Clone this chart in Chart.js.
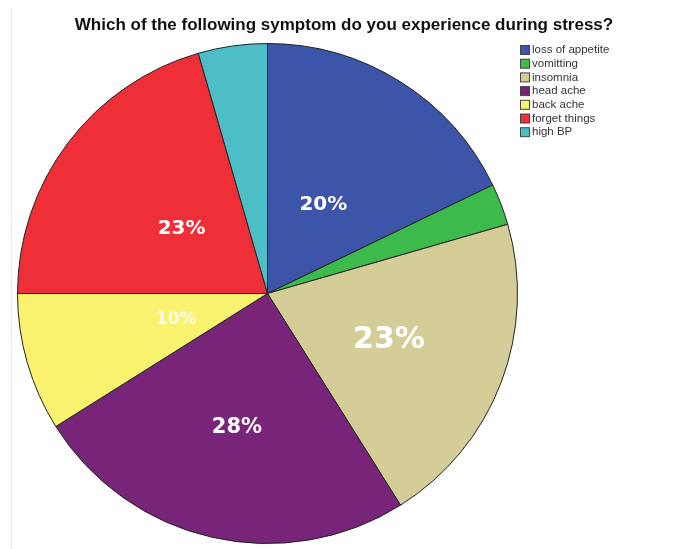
<!DOCTYPE html>
<html>
<head>
<meta charset="utf-8">
<title>Stress symptoms</title>
<script src="https://cdn.jsdelivr.net/npm/chart.js@4/dist/chart.umd.min.js"></script>
<style>
  html, body { margin: 0; padding: 0; background: #ffffff; }
  #wrap { position: relative; width: 673px; height: 549px; }
  #edge { position: absolute; left: 11px; top: 8px; width: 1px; height: 541px; background: #ececec; }
  canvas { position: absolute; left: 0; top: 0; }
</style>
</head>
<body>
<div id="wrap">
  <div id="edge"></div>
  <canvas id="chart" width="673" height="549"></canvas>
</div>
<script>
// Survey answers: share of respondents naming each symptom (percent)
const symptoms = ['loss of appetite', 'vomitting', 'insomnia', 'head ache', 'back ache', 'forget things', 'high BP'];
const shares = [20, 3, 23, 28, 10, 23, 5];
// Slices that carry a printed percentage
const labelled = [true, false, true, true, true, true, false];

const chartTitle = 'Which of the following symptom do you experience during stress?';

const sliceColors = ['#3d55a9', '#3cba4c', '#d5cd98', '#782579', '#f9f26f', '#ee2f37', '#4bbfc5'];

// Look of each printed percentage: font size and how far out from the centre it sits
const valueFont = [20, 0, 30, 21, 17, 20, 0];
const valueRadius = [0.42, 0, 0.52, 0.55, 0.38, 0.43, 0];
const valueAlpha = [1, 1, 1, 1, 0.85, 1, 1];

const overlay = {
  id: 'overlay',
  afterDraw(chart) {
    const ctx = chart.ctx;
    const meta = chart.getDatasetMeta(0);

    // percentages inside the slices
    meta.data.forEach((arc, i) => {
      if (!labelled[i]) return;
      const mid = (arc.startAngle + arc.endAngle) / 2;
      const r = arc.outerRadius * valueRadius[i];
      const x = arc.x + Math.cos(mid) * r;
      const y = arc.y + Math.sin(mid) * r;
      ctx.save();
      ctx.font = 'bold ' + valueFont[i] + 'px "DejaVu Sans", sans-serif';
      ctx.fillStyle = 'rgba(255,255,255,' + valueAlpha[i] + ')';
      ctx.textAlign = 'center';
      ctx.textBaseline = 'middle';
      ctx.fillText(chart.data.datasets[0].data[i] + '%', x, y);
      ctx.restore();
    });

    // title
    ctx.save();
    ctx.font = 'bold 17px "Liberation Sans", Arial, sans-serif';
    ctx.fillStyle = '#111111';
    ctx.textAlign = 'center';
    ctx.textBaseline = 'middle';
    ctx.fillText(chartTitle, 344, 25);
    ctx.restore();

    // legend
    ctx.save();
    ctx.font = '11.5px "Liberation Sans", Arial, sans-serif';
    ctx.textBaseline = 'middle';
    chart.data.labels.forEach((name, i) => {
      const y = 50 + i * 13.7;
      ctx.fillStyle = sliceColors[i];
      ctx.fillRect(520.5, y - 4.5, 9, 9);
      ctx.strokeStyle = '#444444';
      ctx.lineWidth = 1;
      ctx.strokeRect(520.5, y - 4.5, 9, 9);
      ctx.fillStyle = '#333333';
      ctx.textAlign = 'left';
      ctx.fillText(name, 532, y);
    });
    ctx.restore();
  }
};

new Chart(document.getElementById('chart'), {
  type: 'pie',
  data: {
    labels: symptoms,
    datasets: [{
      data: shares,
      backgroundColor: sliceColors,
      borderColor: '#222222',
      borderWidth: 1,
      borderAlign: 'center'
    }]
  },
  options: {
    responsive: false,
    animation: false,
    rotation: 0,
    layout: { padding: { left: 17, right: 155, top: 43, bottom: 5 } },
    plugins: {
      legend: { display: false },
      title: { display: false },
      tooltip: { enabled: false }
    }
  },
  plugins: [overlay]
});
</script>
</body>
</html>
